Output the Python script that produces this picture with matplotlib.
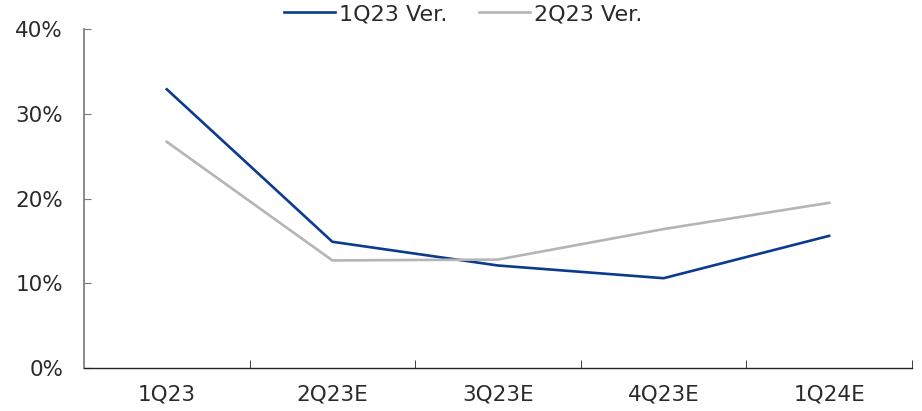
import numpy as np
import matplotlib.pyplot as plt

plt.rcParams['font.family'] = ['DejaVu Sans']

quarters = ["1Q23", "2Q23E", "3Q23E", "4Q23E", "1Q24E"]
ver_1q23 = [32.9, 14.9, 12.1, 10.6, 15.6]
ver_2q23 = [26.7, 12.7, 12.8, 16.4, 19.5]
yticks = [0, 10, 20, 30, 40]

fig = plt.figure(figsize=(9.22, 4.11), dpi=100)
ax = fig.add_axes([0.0911, 0.1046, 0.898, 0.8245])

x = np.arange(len(quarters))
ax.plot(x, ver_1q23, color="#0b3b8f", linewidth=1.9, label="1Q23 Ver.")
ax.plot(x, ver_2q23, color="#b5b5b5", linewidth=1.9, label="2Q23 Ver.")

ax.set_xlim(-0.5, len(quarters) - 0.5)
ax.set_ylim(0, 40)

# category labels centred, tick marks on the boundaries
ax.set_xticks(x)
ax.set_xticklabels(quarters, fontsize=15.5, color="#2a2a2a")
ax.tick_params(axis="x", length=0, pad=12)
ax.set_xticks(np.arange(len(quarters)) + 0.5, minor=True)
ax.tick_params(axis="x", which="minor", direction="in", length=6, color="#222222")

ax.set_yticks(yticks)
ax.set_yticklabels([f"{v}%" for v in yticks], fontsize=15.5, color="#2a2a2a")
ax.tick_params(axis="y", direction="in", length=5, color="#777777", pad=15)

for side in ["top", "right"]:
    ax.spines[side].set_visible(False)
ax.spines["left"].set_color("#777777")
ax.spines["left"].set_linewidth(1.2)
ax.spines["bottom"].set_color("#222222")
ax.spines["bottom"].set_linewidth(1.0)

ax.legend(loc="center", bbox_to_anchor=(0.458, 1.044), ncol=2, frameon=False,
          fontsize=16, handlelength=2.3, handletextpad=0.2, columnspacing=1.4,
          borderaxespad=0, labelcolor="#2a2a2a")

fig.savefig("out.png", dpi=100)
